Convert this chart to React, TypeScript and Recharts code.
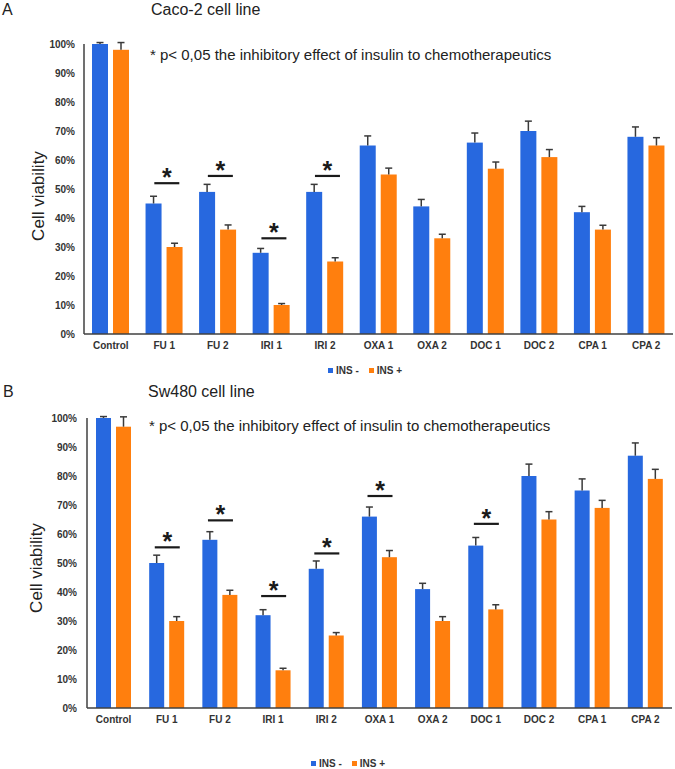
import React from 'react';
import { ComposedChart, Bar, XAxis, YAxis, Scatter } from 'recharts';

const FONT = "'Liberation Sans', Arial, sans-serif";
const BLUE = '#2768df';
const ORANGE = '#ff7f0e';
const ERR = '#3a3a3a';
const AXIS = '#404040';

const categories = ['Control', 'FU 1', 'FU 2', 'IRI 1', 'IRI 2', 'OXA 1', 'OXA 2', 'DOC 1', 'DOC 2', 'CPA 1', 'CPA 2'];
const seriesNames = ['INS -', 'INS +'];
const seriesColors = [BLUE, ORANGE];
const yTicks = [0, 10, 20, 30, 40, 50, 60, 70, 80, 90, 100];

// Panel A: Caco-2
const cacoInsMinus = [100, 45, 49, 28, 49, 65, 44, 66, 70, 42, 68];
const cacoInsPlus = [98, 30, 36, 10, 25, 55, 33, 57, 61, 36, 65];
const cacoErrMinus = [0.5, 2.5, 2.6, 1.5, 2.6, 3.3, 2.4, 3.3, 3.4, 2.0, 3.4];
const cacoErrPlus = [2.5, 1.3, 1.6, 0.5, 1.3, 2.2, 1.4, 2.3, 2.6, 1.5, 2.7];
const cacoSig = [null, 52, 54.5, 33, 54.5, null, null, null, null, null, null];

// Panel B: Sw480
const swInsMinus = [100, 50, 58, 32, 48, 66, 41, 56, 80, 75, 87];
const swInsPlus = [97, 30, 39, 13, 25, 52, 30, 34, 65, 69, 79];
const swErrMinus = [0.5, 2.7, 2.8, 1.9, 2.7, 3.3, 2.0, 2.8, 4.1, 4.0, 4.4];
const swErrPlus = [3.4, 1.5, 1.6, 0.7, 1.0, 2.3, 1.5, 1.6, 2.7, 2.6, 3.3];
const swSig = [null, 55.4, 64.7, 38.6, 53.3, 73.1, null, 63.5, null, null, null];

function buildRows(minus: number[], plus: number[], errM: number[], errP: number[], sig: (number | null)[]) {
  return categories.map((c, i) => ({
    cat: c,
    minus: minus[i],
    plus: plus[i],
    errMinus: errM[i],
    errPlus: errP[i],
    sig: sig[i],
  }));
}

const cacoRows = buildRows(cacoInsMinus, cacoInsPlus, cacoErrMinus, cacoErrPlus, cacoSig);
const swRows = buildRows(swInsMinus, swInsPlus, swErrMinus, swErrPlus, swSig);

const makeBarShape = (valueKey: string, errKey: string, color: string) => (props: any) => {
  const { x, y, width, height, payload } = props;
  const v = payload[valueKey];
  const e = payload[errKey];
  const ppu = v ? height / v : 0;
  const cx = x + width / 2;
  const topErr = y - e * ppu;
  return (
    <g>
      <rect x={x} y={y} width={width} height={height} fill={color} />
      <line x1={cx} x2={cx} y1={y} y2={topErr} stroke={ERR} strokeWidth={1.5} />
      <line x1={cx - 3.5} x2={cx + 3.5} y1={topErr} y2={topErr} stroke={ERR} strokeWidth={1.5} />
    </g>
  );
};

const makeSigShape = (dx: number) => (props: any) => {
  const { cx, cy, payload } = props;
  if (!payload || payload.sig == null || cy == null || isNaN(cy)) return <g />;
  const x = cx + dx;
  return (
    <g>
      <line x1={x - 12.5} x2={x + 12.5} y1={cy} y2={cy} stroke="#1a1a1a" strokeWidth={2.2} />
      <text x={x} y={cy + 3} textAnchor="middle" fontSize={25} fontWeight="bold" fontFamily={FONT} fill="#1a1a1a">
        *
      </text>
    </g>
  );
};

const tickStyle = { fontFamily: FONT, fontSize: 10, fontWeight: 'bold', fill: '#333' } as any;

function Panel({ rows, top, yWidth, right, barSize, sigDx, tickMargin }: any) {
  return (
    <div style={{ position: 'absolute', left: 0, top }}>
      <ComposedChart
        width={675}
        height={360}
        data={rows}
        margin={{ top: 44, right, bottom: 0, left: 0 }}
        barGap={5}
        barSize={barSize}
      >
        <XAxis
          dataKey="cat"
          type="category"
          interval={0}
          height={26}
          tickLine={false}
          axisLine={{ stroke: AXIS, strokeWidth: 1.5 }}
          tick={tickStyle}
        />
        <YAxis
          type="number"
          domain={[0, 100]}
          ticks={yTicks}
          width={yWidth}
          tickLine={false}
          tickMargin={tickMargin}
          axisLine={{ stroke: AXIS, strokeWidth: 1.5 }}
          tick={tickStyle}
          tickFormatter={(v: number) => `${v}%`}
        />
        <Bar dataKey="minus" name={seriesNames[0]} fill={BLUE} isAnimationActive={false} shape={makeBarShape('minus', 'errMinus', BLUE)} />
        <Bar dataKey="plus" name={seriesNames[1]} fill={ORANGE} isAnimationActive={false} shape={makeBarShape('plus', 'errPlus', ORANGE)} />
        <Scatter dataKey="sig" isAnimationActive={false} shape={makeSigShape(sigDx)} />
      </ComposedChart>
    </div>
  );
}

function LegendRow({ left, top }: { left: number; top: number }) {
  return (
    <div
      style={{
        position: 'absolute',
        left,
        top,
        display: 'flex',
        alignItems: 'center',
        fontFamily: FONT,
        fontSize: 10,
        fontWeight: 'bold',
        color: '#333',
        whiteSpace: 'nowrap',
        lineHeight: '11px',
      }}
    >
      {seriesNames.map((n, i) => (
        <span key={n} style={{ display: 'flex', alignItems: 'center', marginRight: 10 }}>
          <span style={{ width: 5, height: 5, background: seriesColors[i], marginRight: 3, display: 'inline-block' }} />
          {n}
        </span>
      ))}
    </div>
  );
}

export default function App() {
  return (
    <div style={{ position: 'absolute', left: 0, top: 0, width: 675, height: 769, background: '#fff', overflow: 'hidden' }}>
      <Panel rows={cacoRows} top={0} yWidth={84} right={2} barSize={16} sigDx={2.5} tickMargin={3} />
      <Panel rows={swRows} top={374} yWidth={87} right={3} barSize={15} sigDx={0.5} tickMargin={4} />
      <LegendRow left={328} top={365} />
      <LegendRow left={311} top={758} />
      <svg width={675} height={769} style={{ position: 'absolute', left: 0, top: 0, pointerEvents: 'none' }}>
        <g fontFamily={FONT} fill="#222">
          <text x={2} y={15} fontSize={16}>A</text>
          <text x={151} y={15} fontSize={16}>Caco-2 cell line</text>
          <text x={150} y={60} fontSize={15}>* p&lt; 0,05 the inhibitory effect of insulin to chemotherapeutics</text>
          <text transform="translate(44,196) rotate(-90)" textAnchor="middle" fontSize={17}>Cell viability</text>
          <text x={3} y={397} fontSize={16}>B</text>
          <text x={148} y={397} fontSize={16}>Sw480 cell line</text>
          <text x={149} y={431} fontSize={15}>* p&lt; 0,05 the inhibitory effect of insulin to chemotherapeutics</text>
          <text transform="translate(42,568) rotate(-90)" textAnchor="middle" fontSize={17}>Cell viability</text>
        </g>
      </svg>
    </div>
  );
}
